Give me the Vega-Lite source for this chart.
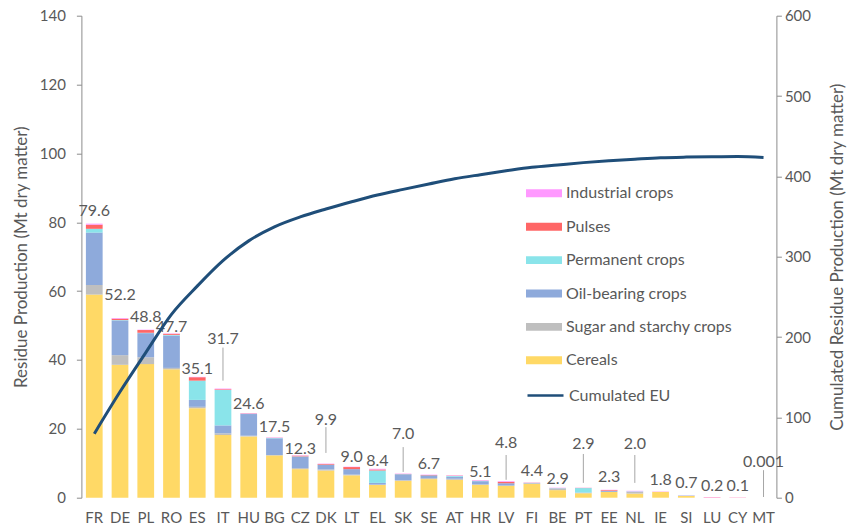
{
  "$schema": "https://vega.github.io/schema/vega-lite/v6.json",
  "width": 695,
  "height": 482,
  "autosize": {"type": "none"},
  "padding": {"left": 81.4, "top": 15.7, "right": 72.6, "bottom": 33.3},
  "background": "white",
  "config": {
    "view": {"stroke": null},
    "font": "Lato",
    "scale": {"bandPaddingInner": 0.35, "bandPaddingOuter": 0.175},
    "axis": {"grid": false, "labelColor": "#595959", "titleColor": "#595959", "labelFont": "Lato", "titleFont": "Lato", "titleFontWeight": "normal", "domainColor": "#8c8c8c", "tickColor": "#8c8c8c"},
    "axisX": {"ticks": false, "domain": false, "labelPadding": 13, "labelFontSize": 15, "labelAngle": 0},
    "axisLeft": {"tickSize": 5, "labelPadding": 11, "labelFontSize": 15, "titleFontSize": 17, "titlePadding": 9},
    "axisRight": {"tickSize": 5, "labelPadding": 3, "labelFontSize": 15, "titleFontSize": 17, "titlePadding": 36}
  },
  "datasets": {
    "crops": [
      {"crop": "Cereals", "rank": 1},
      {"crop": "Sugar and starchy crops", "rank": 2},
      {"crop": "Oil-bearing crops", "rank": 3},
      {"crop": "Permanent crops", "rank": 4},
      {"crop": "Pulses", "rank": 5},
      {"crop": "Industrial crops", "rank": 6}
    ],
    "wide": [
      {"country": "FR", "Cereals": 59.0, "Sugar and starchy crops": 2.8, "Oil-bearing crops": 15.2, "Permanent crops": 1.1, "Pulses": 1.2, "Industrial crops": 0.3},
      {"country": "DE", "Cereals": 38.6, "Sugar and starchy crops": 2.8, "Oil-bearing crops": 10.1, "Permanent crops": 0.1, "Pulses": 0.4, "Industrial crops": 0.2},
      {"country": "PL", "Cereals": 38.8, "Sugar and starchy crops": 2.0, "Oil-bearing crops": 7.0, "Permanent crops": 0.1, "Pulses": 0.8, "Industrial crops": 0.1},
      {"country": "RO", "Cereals": 37.3, "Sugar and starchy crops": 0.4, "Oil-bearing crops": 9.4, "Permanent crops": 0.2, "Pulses": 0.3, "Industrial crops": 0.1},
      {"country": "ES", "Cereals": 26.0, "Sugar and starchy crops": 0.4, "Oil-bearing crops": 2.0, "Permanent crops": 5.6, "Pulses": 1.0, "Industrial crops": 0.1},
      {"country": "IT", "Cereals": 18.2, "Sugar and starchy crops": 0.5, "Oil-bearing crops": 2.3, "Permanent crops": 10.3, "Pulses": 0.2, "Industrial crops": 0.2},
      {"country": "HU", "Cereals": 17.8, "Sugar and starchy crops": 0.2, "Oil-bearing crops": 6.3, "Permanent crops": 0.1, "Pulses": 0.1, "Industrial crops": 0.1},
      {"country": "BG", "Cereals": 12.3, "Sugar and starchy crops": 0.05, "Oil-bearing crops": 4.9, "Permanent crops": 0.1, "Pulses": 0.05, "Industrial crops": 0.1},
      {"country": "CZ", "Cereals": 8.3, "Sugar and starchy crops": 0.3, "Oil-bearing crops": 3.3, "Permanent crops": 0.1, "Pulses": 0.2, "Industrial crops": 0.1},
      {"country": "DK", "Cereals": 7.9, "Sugar and starchy crops": 0.3, "Oil-bearing crops": 1.4, "Permanent crops": 0.0, "Pulses": 0.2, "Industrial crops": 0.1},
      {"country": "LT", "Cereals": 6.5, "Sugar and starchy crops": 0.2, "Oil-bearing crops": 1.6, "Permanent crops": 0.0, "Pulses": 0.6, "Industrial crops": 0.1},
      {"country": "EL", "Cereals": 3.7, "Sugar and starchy crops": 0.1, "Oil-bearing crops": 0.5, "Permanent crops": 3.6, "Pulses": 0.3, "Industrial crops": 0.2},
      {"country": "SK", "Cereals": 4.9, "Sugar and starchy crops": 0.2, "Oil-bearing crops": 1.7, "Permanent crops": 0.05, "Pulses": 0.05, "Industrial crops": 0.1},
      {"country": "SE", "Cereals": 5.4, "Sugar and starchy crops": 0.3, "Oil-bearing crops": 0.8, "Permanent crops": 0.0, "Pulses": 0.1, "Industrial crops": 0.1},
      {"country": "AT", "Cereals": 5.2, "Sugar and starchy crops": 0.3, "Oil-bearing crops": 0.6, "Permanent crops": 0.2, "Pulses": 0.1, "Industrial crops": 0.1},
      {"country": "HR", "Cereals": 3.7, "Sugar and starchy crops": 0.2, "Oil-bearing crops": 0.9, "Permanent crops": 0.1, "Pulses": 0.05, "Industrial crops": 0.15},
      {"country": "LV", "Cereals": 3.5, "Sugar and starchy crops": 0.0, "Oil-bearing crops": 0.7, "Permanent crops": 0.0, "Pulses": 0.4, "Industrial crops": 0.2},
      {"country": "FI", "Cereals": 4.0, "Sugar and starchy crops": 0.2, "Oil-bearing crops": 0.1, "Permanent crops": 0.0, "Pulses": 0.05, "Industrial crops": 0.05},
      {"country": "BE", "Cereals": 2.2, "Sugar and starchy crops": 0.5, "Oil-bearing crops": 0.05, "Permanent crops": 0.05, "Pulses": 0.0, "Industrial crops": 0.1},
      {"country": "PT", "Cereals": 1.3, "Sugar and starchy crops": 0.1, "Oil-bearing crops": 0.1, "Permanent crops": 1.3, "Pulses": 0.05, "Industrial crops": 0.05},
      {"country": "EE", "Cereals": 1.7, "Sugar and starchy crops": 0.0, "Oil-bearing crops": 0.3, "Permanent crops": 0.0, "Pulses": 0.2, "Industrial crops": 0.1},
      {"country": "NL", "Cereals": 1.2, "Sugar and starchy crops": 0.5, "Oil-bearing crops": 0.05, "Permanent crops": 0.1, "Pulses": 0.0, "Industrial crops": 0.15},
      {"country": "IE", "Cereals": 1.7, "Sugar and starchy crops": 0.0, "Oil-bearing crops": 0.0, "Permanent crops": 0.0, "Pulses": 0.0, "Industrial crops": 0.1},
      {"country": "SI", "Cereals": 0.5, "Sugar and starchy crops": 0.0, "Oil-bearing crops": 0.1, "Permanent crops": 0.05, "Pulses": 0.0, "Industrial crops": 0.05},
      {"country": "LU", "Cereals": 0.0, "Sugar and starchy crops": 0.0, "Oil-bearing crops": 0.0, "Permanent crops": 0.0, "Pulses": 0.1, "Industrial crops": 0.1},
      {"country": "CY", "Cereals": 0.0, "Sugar and starchy crops": 0.0, "Oil-bearing crops": 0.0, "Permanent crops": 0.0, "Pulses": 0.05, "Industrial crops": 0.05},
      {"country": "MT", "Cereals": 0.0, "Sugar and starchy crops": 0.0, "Oil-bearing crops": 0.0, "Permanent crops": 0.001, "Pulses": 0.0, "Industrial crops": 0.0}
    ],
    "totals": [
      {"country": "FR", "label": "79.6", "labelY": 83.2, "cum": 79.6},
      {"country": "DE", "label": "52.2", "labelY": 58.8, "cum": 131.8},
      {"country": "PL", "label": "48.8", "labelY": 52.5, "cum": 180.6},
      {"country": "RO", "label": "47.7", "labelY": 49.6, "cum": 228.3},
      {"country": "ES", "label": "35.1", "labelY": 37.4, "cum": 263.4},
      {"country": "IT", "label": "31.7", "labelY": 46.1, "cum": 295.1},
      {"country": "HU", "label": "24.6", "labelY": 27.2, "cum": 319.7},
      {"country": "BG", "label": "17.5", "labelY": 20.5, "cum": 337.2},
      {"country": "CZ", "label": "12.3", "labelY": 14.1, "cum": 349.5},
      {"country": "DK", "label": "9.9", "labelY": 22.6, "cum": 359.4},
      {"country": "LT", "label": "9.0", "labelY": 11.8, "cum": 368.4},
      {"country": "EL", "label": "8.4", "labelY": 10.7, "cum": 376.8},
      {"country": "SK", "label": "7.0", "labelY": 18.5, "cum": 383.8},
      {"country": "SE", "label": "6.7", "labelY": 9.8, "cum": 390.5},
      {"country": "AT", "label": "", "labelY": 9.0, "cum": 397.0},
      {"country": "HR", "label": "5.1", "labelY": 7.4, "cum": 402.1},
      {"country": "LV", "label": "4.8", "labelY": 16.0, "cum": 406.9},
      {"country": "FI", "label": "4.4", "labelY": 7.8, "cum": 411.3},
      {"country": "BE", "label": "2.9", "labelY": 5.4, "cum": 414.2},
      {"country": "PT", "label": "2.9", "labelY": 15.6, "cum": 417.1},
      {"country": "EE", "label": "2.3", "labelY": 5.9, "cum": 419.4},
      {"country": "NL", "label": "2.0", "labelY": 15.6, "cum": 421.4},
      {"country": "IE", "label": "1.8", "labelY": 5.1, "cum": 423.2},
      {"country": "SI", "label": "0.7", "labelY": 4.4, "cum": 424.0},
      {"country": "LU", "label": "0.2", "labelY": 3.4, "cum": 424.4},
      {"country": "CY", "label": "0.1", "labelY": 3.4, "cum": 424.6},
      {"country": "MT", "label": "0.001", "labelY": 10.4, "cum": 423.5}
    ],
    "leaders": [
      {"country": "IT", "from": 34.0, "to": 43.6},
      {"country": "DK", "from": 13.0, "to": 20.5},
      {"country": "SK", "from": 7.5, "to": 14.7},
      {"country": "LV", "from": 5.2, "to": 12.4},
      {"country": "PT", "from": 4.3, "to": 12.7},
      {"country": "NL", "from": 4.3, "to": 12.4},
      {"country": "MT", "from": 0.2, "to": 8.0}
    ]
  },
  "layer": [
    {
      "layer": [
        {
          "data": {"name": "wide"},
          "transform": [
            {"fold": ["Cereals", "Sugar and starchy crops", "Oil-bearing crops", "Permanent crops", "Pulses", "Industrial crops"], "as": ["crop", "mt"]},
            {"lookup": "crop", "from": {"data": {"name": "crops"}, "key": "crop", "fields": ["rank"]}}
          ],
          "mark": {"type": "bar"},
          "encoding": {
            "x": {"field": "country", "type": "nominal", "title": null, "sort": ["FR","DE","PL","RO","ES","IT","HU","BG","CZ","DK","LT","EL","SK","SE","AT","HR","LV","FI","BE","PT","EE","NL","IE","SI","LU","CY","MT"]},
            "y": {"field": "mt", "type": "quantitative", "stack": "zero", "scale": {"domain": [0, 140], "nice": false}, "axis": {"values": [0, 20, 40, 60, 80, 100, 120, 140]}, "title": "Residue Production (Mt dry matter)"},
            "color": {
              "field": "crop", "type": "nominal",
              "scale": {
                "domain": ["Industrial crops", "Pulses", "Permanent crops", "Oil-bearing crops", "Sugar and starchy crops", "Cereals"],
                "range": ["#ff99ff", "#ff6666", "#8ae4ea", "#8eaadb", "#bfbfbf", "#ffd966"]
              },
              "legend": {
                "orient": "none", "legendX": 444.6, "legendY": 159.6, "title": null, "padding": 0,
                "symbolType": "M-1,-0.22H1V0.22H-1Z", "symbolSize": 1296, "symbolStrokeWidth": 0, "symbolOpacity": 1,
                "labelFontSize": 16, "labelColor": "#595959", "labelFont": "Lato", "labelOffset": 4, "rowPadding": 7.4, "labelLimit": 0
              }
            },
            "order": {"field": "rank", "type": "quantitative", "sort": "ascending"}
          }
        },
        {
          "data": {"name": "leaders"},
          "mark": {"type": "rule", "color": "#a6a6a6", "strokeWidth": 1},
          "encoding": {
            "x": {"field": "country", "type": "nominal", "title": null, "sort": ["FR","DE","PL","RO","ES","IT","HU","BG","CZ","DK","LT","EL","SK","SE","AT","HR","LV","FI","BE","PT","EE","NL","IE","SI","LU","CY","MT"]},
            "y": {"field": "from", "type": "quantitative", "stack": null, "scale": {"domain": [0, 140], "nice": false}, "title": "Residue Production (Mt dry matter)"},
            "y2": {"field": "to"}
          }
        },
        {
          "data": {"name": "totals"},
          "mark": {"type": "text", "fontSize": 16, "color": "#595959", "font": "Lato", "baseline": "middle", "align": "center"},
          "encoding": {
            "x": {"field": "country", "type": "nominal", "title": null, "sort": ["FR","DE","PL","RO","ES","IT","HU","BG","CZ","DK","LT","EL","SK","SE","AT","HR","LV","FI","BE","PT","EE","NL","IE","SI","LU","CY","MT"]},
            "y": {"field": "labelY", "type": "quantitative", "stack": null, "scale": {"domain": [0, 140], "nice": false}, "title": "Residue Production (Mt dry matter)"},
            "text": {"field": "label", "type": "nominal"}
          }
        }
      ]
    },
    {
      "data": {"name": "totals"},
      "mark": {"type": "line", "strokeWidth": 3, "interpolate": "monotone"},
      "encoding": {
        "x": {"field": "country", "type": "nominal", "title": null, "sort": ["FR","DE","PL","RO","ES","IT","HU","BG","CZ","DK","LT","EL","SK","SE","AT","HR","LV","FI","BE","PT","EE","NL","IE","SI","LU","CY","MT"]},
        "y": {"field": "cum", "type": "quantitative", "scale": {"domain": [0, 600], "nice": false}, "axis": {"orient": "right", "values": [0, 100, 200, 300, 400, 500, 600], "titleAngle": 270}, "title": "Cumulated Residue Production (Mt dry matter)"},
        "stroke": {
          "datum": "Cumulated EU", "type": "nominal",
          "scale": {"domain": ["Cumulated EU"], "range": ["#1f4e79"]},
          "legend": {
            "orient": "none", "legendX": 444.6, "legendY": 360.3, "title": null, "padding": 0,
            "symbolType": "stroke", "symbolSize": 1296, "symbolStrokeWidth": 2.5,
            "labelFontSize": 16, "labelColor": "#595959", "labelFont": "Lato", "labelOffset": 4
          }
        }
      }
    }
  ],
  "resolve": {"scale": {"y": "independent", "color": "independent"}}
}
